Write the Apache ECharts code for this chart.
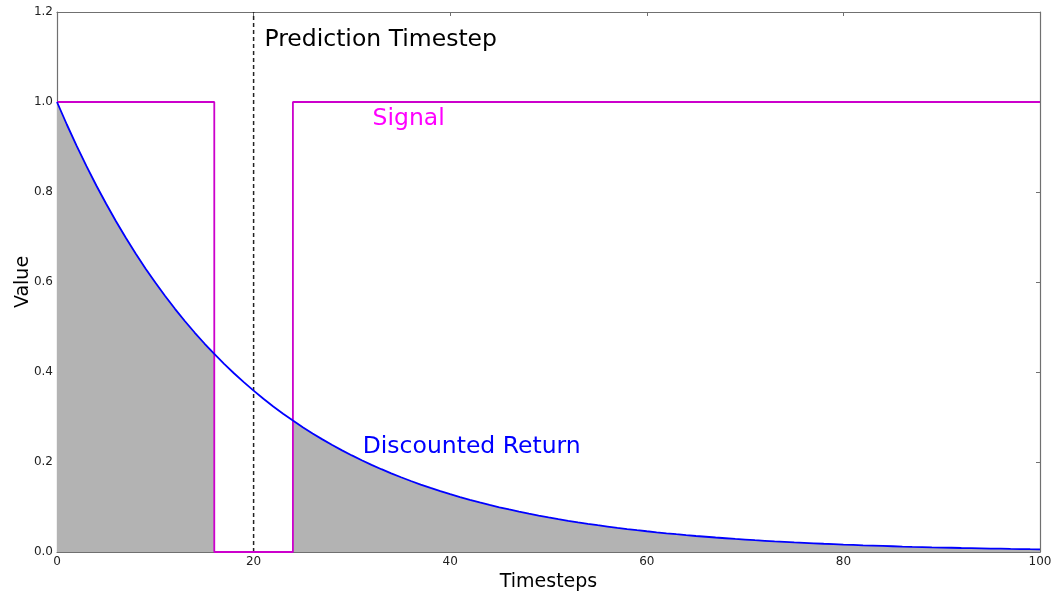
<!DOCTYPE html>
<html>
<head>
<meta charset="utf-8">
<script src="https://cdn.jsdelivr.net/npm/echarts@6/dist/echarts.min.js"></script>
<style>
  html, body { margin: 0; padding: 0; background: #fff; }
  #chart { width: 1053px; height: 594px; }
</style>
</head>
<body>
<div id="chart"></div>
<script>
// Discounted return at each timestep 0..100
const returnValues = [
  1.0000, 0.9500, 0.9025, 0.8574, 0.8145, 0.7738, 0.7351, 0.6983, 0.6634, 0.6302,
  0.5987, 0.5688, 0.5404, 0.5133, 0.4877, 0.4633, 0.4401, 0.4181, 0.3972, 0.3774,
  0.3585, 0.3406, 0.3235, 0.3074, 0.2920, 0.2774, 0.2635, 0.2503, 0.2378, 0.2259,
  0.2146, 0.2039, 0.1937, 0.1840, 0.1748, 0.1661, 0.1578, 0.1499, 0.1424, 0.1353,
  0.1285, 0.1221, 0.1160, 0.1102, 0.1047, 0.0994, 0.0945, 0.0897, 0.0853, 0.0810,
  0.0769, 0.0731, 0.0694, 0.0660, 0.0627, 0.0595, 0.0566, 0.0537, 0.0510, 0.0485,
  0.0461, 0.0438, 0.0416, 0.0395, 0.0375, 0.0356, 0.0339, 0.0322, 0.0306, 0.0290,
  0.0276, 0.0262, 0.0249, 0.0236, 0.0225, 0.0213, 0.0203, 0.0193, 0.0183, 0.0174,
  0.0165, 0.0157, 0.0149, 0.0142, 0.0135, 0.0128, 0.0121, 0.0115, 0.0110, 0.0104,
  0.0099, 0.0094, 0.0089, 0.0085, 0.0081, 0.0077, 0.0073, 0.0069, 0.0066, 0.0062,
  0.0059
];

// Signal as a step function: corner points
const signalTimes  = [0, 16, 16, 24, 24, 100];
const signalValues = [1, 1, 0, 0, 1, 1];

// Signal "off" window (no credit in the shaded area)
const signalOffStart = 16;
const signalOffEnd = 24;

const predictionTimestep = 20;

const xTicks = [0, 20, 40, 60, 80, 100];
const yTicks = [0.0, 0.2, 0.4, 0.6, 0.8, 1.0, 1.2];

// Annotation anchors in data space: [x, y]
const annotations = [
  { text: 'Prediction Timestep', at: [21.1, 1.138], color: '#000000' },
  { text: 'Signal',              at: [32.1, 0.962], color: '#ff00ff' },
  { text: 'Discounted Return',   at: [31.1, 0.2336], color: '#0000ff' }
];

const FONT = 'DejaVu Sans';

const returnPairs = returnValues.map((v, t) => [t, v]);
const shadedPairs = returnValues.map((v, t) =>
  (t > signalOffStart && t < signalOffEnd) ? [t, null] : [t, v]);
const signalPairs = signalTimes.map((t, i) => [t, signalValues[i]]);

const chart = echarts.init(document.getElementById('chart'), null, { renderer: 'canvas' });

const axisLineStyle = { color: '#707070', width: 1.2 };
const tickStyle = { show: true, inside: true, length: 4, lineStyle: { color: '#707070', width: 1 } };

const option = {
  animation: false,
  backgroundColor: '#ffffff',
  grid: { left: 57, right: 13, top: 12, bottom: 42, containLabel: false, outerBoundsMode: 'none' },
  xAxis: [
    {
      type: 'value', min: 0, max: 100, interval: 20, position: 'bottom',
      name: 'Timesteps', nameLocation: 'middle', nameGap: 19,
      nameTextStyle: { fontFamily: FONT, fontSize: 19, color: '#000' },
      axisLine: { show: true, onZero: false, lineStyle: axisLineStyle },
      axisTick: tickStyle,
      axisLabel: { fontFamily: FONT, fontSize: 12, color: '#222', margin: 4,
                   formatter: v => xTicks.includes(v) ? String(v) : '' },
      splitLine: { show: false }
    },
    {
      type: 'value', min: 0, max: 100, interval: 20, position: 'top',
      axisLine: { show: true, onZero: false, lineStyle: axisLineStyle },
      axisTick: tickStyle, axisLabel: { show: false }, splitLine: { show: false }
    }
  ],
  yAxis: [
    {
      type: 'value', min: 0, max: 1.2, interval: 0.2, position: 'left',
      name: 'Value', nameLocation: 'middle', nameGap: 24, nameRotate: 90,
      nameMoveOverlap: false,
      nameTextStyle: { fontFamily: FONT, fontSize: 19, color: '#000' },
      axisLine: { show: true, onZero: false, lineStyle: axisLineStyle },
      axisTick: tickStyle,
      axisLabel: { fontFamily: FONT, fontSize: 12, color: '#222', margin: 4,
                   formatter: v => v.toFixed(1) },
      splitLine: { show: false }
    },
    {
      type: 'value', min: 0, max: 1.2, interval: 0.2, position: 'right',
      axisLine: { show: true, onZero: false, lineStyle: axisLineStyle },
      axisTick: tickStyle, axisLabel: { show: false }, splitLine: { show: false }
    }
  ],
  series: [
    {
      name: 'credited',
      type: 'line',
      data: shadedPairs,
      connectNulls: false,
      showSymbol: false,
      lineStyle: { width: 0, opacity: 0 },
      areaStyle: { color: '#b3b3b3', opacity: 1 },
      z: 1
    },
    {
      name: 'prediction',
      type: 'line',
      data: [[predictionTimestep, 0], [predictionTimestep, 1.2]],
      showSymbol: false,
      lineStyle: { color: '#222', width: 1.5, type: [4, 3] },
      z: 2
    },
    {
      name: 'Signal',
      type: 'line',
      data: signalPairs,
      showSymbol: false,
      lineStyle: { color: '#cc00cc', width: 1.8 },
      z: 3
    },
    {
      name: 'Discounted Return',
      type: 'line',
      data: returnPairs,
      showSymbol: false,
      lineStyle: { color: '#0000ff', width: 1.8 },
      z: 4
    }
  ]
};

chart.setOption(option);

// Place the text annotations at their data-space anchors
chart.setOption({
  graphic: annotations.map(a => {
    const p = chart.convertToPixel({ gridIndex: 0 }, a.at);
    return {
      type: 'text',
      x: p[0], y: p[1],
      z: 10,
      style: {
        text: a.text,
        fill: a.color,
        font: '23.5px "' + FONT + '"',
        textAlign: 'left',
        textVerticalAlign: 'middle'
      }
    };
  })
});
</script>
</body>
</html>
